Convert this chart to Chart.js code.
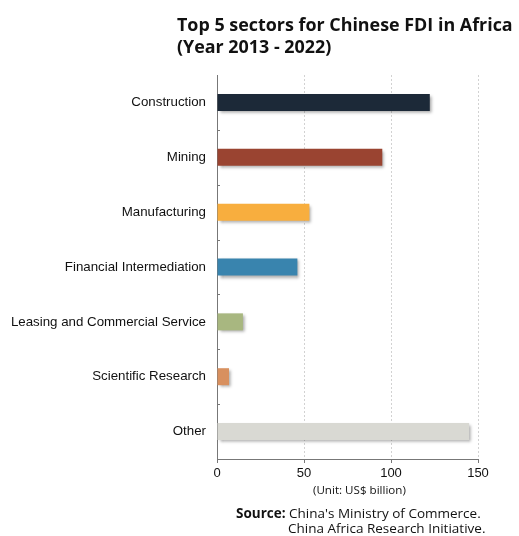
<!DOCTYPE html>
<html>
<head>
<meta charset="utf-8">
<script src="https://cdn.jsdelivr.net/npm/chart.js@4.4.0/dist/chart.umd.min.js"></script>
<style>
  html, body { margin: 0; padding: 0; background: #fff; }
  #wrap { position: relative; width: 519px; height: 536px; overflow: hidden; }
  #c { position: absolute; left: 0; top: 0; }
  .t { position: absolute; font-family: "Open Sans", "DejaVu Sans", sans-serif; color: #111; white-space: nowrap; }
  #title { left: 177px; top: 13px; font-size: 17.9px; font-weight: 700; line-height: 22px; }
  #unit { left: 313px; top: 482px; font-size: 11.6px; }
  #src1 { left: 236px; top: 505px; font-size: 13.5px; line-height: 16px; }
  #src2 { left: 288px; top: 520px; font-size: 13.5px; line-height: 16px; }
</style>
</head>
<body>
<div id="wrap">
  <canvas id="c" width="519" height="536"></canvas>
  <div class="t" id="title">Top 5 sectors for Chinese FDI in Africa<br>(Year 2013 - 2022)</div>
  <div class="t" id="unit">(Unit: US$ billion)</div>
  <div class="t" id="src1"><b>Source:</b> China's Ministry of Commerce.</div>
  <div class="t" id="src2">China Africa Research Initiative.</div>
</div>
<script>
const categories = ["Construction", "Mining", "Manufacturing", "Financial Intermediation", "Leasing and Commercial Service", "Scientific Research", "Other"];
const values = [122.3, 95.0, 53.1, 46.2, 14.9, 6.9, 144.9];
const barColors = ["#1c2938", "#9a4431", "#f8ae3e", "#3984ae", "#a8b780", "#d8905f", "#d9d9d3"];
const xTicks = [0, 50, 100, 150];

const shadowPlugin = {
  id: 'barShadow',
  beforeDatasetsDraw(chart) {
    const ctx = chart.ctx;
    ctx.save();
    ctx.shadowColor = 'rgba(0,0,0,0.35)';
    ctx.shadowBlur = 3;
    ctx.shadowOffsetX = 2;
    ctx.shadowOffsetY = 2;
  },
  afterDatasetsDraw(chart) {
    chart.ctx.restore();
  }
};

const innerTicks = {
  id: 'innerTicks',
  afterDraw(chart) {
    const y = chart.scales.y, ctx = chart.ctx;
    const left = chart.chartArea.left;
    ctx.save();
    ctx.strokeStyle = '#777';
    ctx.lineWidth = 1;
    for (let i = 0; i < categories.length - 1; i++) {
      const py = Math.round((y.getPixelForValue(i) + y.getPixelForValue(i + 1)) / 2) + 0.5;
      ctx.beginPath();
      ctx.moveTo(left, py);
      ctx.lineTo(left + 3, py);
      ctx.stroke();
    }
    ctx.restore();
  }
};

new Chart(document.getElementById('c'), {
  type: 'bar',
  data: {
    labels: categories,
    datasets: [{
      data: values,
      backgroundColor: barColors,
      borderWidth: 0,
      barPercentage: 1,
      categoryPercentage: 0.31
    }]
  },
  plugins: [shadowPlugin, innerTicks],
  options: {
    indexAxis: 'y',
    responsive: false,
    animation: false,
    devicePixelRatio: 1,
    layout: { padding: { left: 0, right: 41, top: 75, bottom: 0 } },
    plugins: { legend: { display: false }, tooltip: { enabled: false } },
    scales: {
      x: {
        min: 0, max: 150,
        afterBuildTicks(scale) { scale.ticks = xTicks.map(v => ({ value: v })); },
        afterFit(scale) { scale.height = 77; },
        grid: { color: '#d2d2d2', tickColor: '#777', tickLength: 4, drawOnChartArea: true, tickBorderDash: [] },
        border: { display: true, color: '#777', width: 1, dash: [2, 2] },
        ticks: { color: '#111', padding: 3, font: { family: '"Liberation Sans", Arial, sans-serif', size: 13 } }
      },
      y: {
        afterFit(scale) { scale.width = 217; },
        grid: { display: false },
        border: { display: true, color: '#777', width: 1 },
        ticks: { color: '#111', padding: 3, font: { family: '"Liberation Sans", Arial, sans-serif', size: 13.3 } }
      }
    }
  }
});
</script>
</body>
</html>
